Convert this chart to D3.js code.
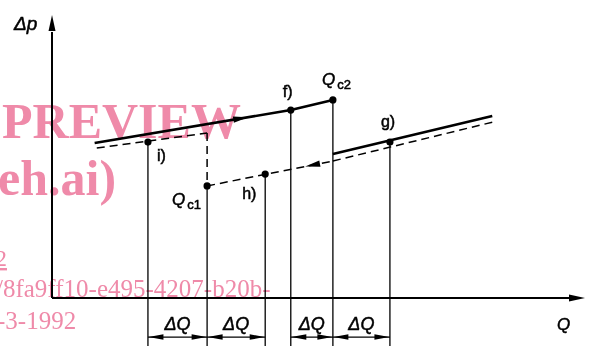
<!DOCTYPE html>
<html>
<head>
<meta charset="utf-8">
<script src="https://cdn.jsdelivr.net/npm/d3@7"></script>
<style>
  body { margin: 0; background: #fff; }
  svg { display: block; }
  .lab { font-family: "Liberation Sans", Arial, sans-serif; fill: #000; stroke: #000; stroke-width: 0.5px; }
  .wm { font-family: "Liberation Serif", "Times New Roman", serif; fill: #ef8aa9; mix-blend-mode: multiply; }
</style>
</head>
<body>
<svg id="chart" width="590" height="346"></svg>
<script>
// points on the characteristic (Q, delta p), abstract units 0..100
var pointNames = ["i)", "Qc1", "h)", "f)", "Qc2", "g)"];
var pointQ = [18.0, 29.1, 40.0, 44.8, 52.7, 63.4];
var pointDp = [55.1, 39.6, 43.8, 66.4, 70.0, 55.1];

// line segments
var upperSolidQ = [8.0, 44.8, 52.7],  upperSolidDp = [54.8, 66.4, 70.0];
var upperDashQ = [8.4, 29.1],         upperDashDp = [53.0, 58.3];
var lowerDashQ = [29.1, 52.7],        lowerDashDp = [39.6, 48.4];
var rightSolidQ = [52.7, 82.6],       rightSolidDp = [50.9, 64.3];
var rightDashQ = [52.7, 82.8],        rightDashDp = [48.4, 62.2];

// delta Q intervals (from, to)
var dqFrom = [18.0, 29.1, 44.8, 52.7];
var dqTo = [29.1, 40.0, 52.7, 63.4];
var dqLabels = ["ΔQ", "ΔQ", "ΔQ", "ΔQ"];

// direction arrows on the lines (tip Q)
var fwdArrowQ = 36.8, backArrowQ = 47.5;
var dimBottom = -17, dimArrowDp = -13.8;

var watermark = ["PREVIEW", "eh.ai)", "2", "/8fa9ff10-e495-4207-b20b-", "-3-1992"];

var svg = d3.select("#chart");
var x = d3.scaleLinear().domain([0, 100]).range([52, 585]);
var y = d3.scaleLinear().domain([0, 100]).range([298, 15]);

function zip(a, b) { return a.map(function(v, i) { return [v, b[i]]; }); }
var line = d3.line().x(function(d) { return x(d[0]); }).y(function(d) { return y(d[1]); });

// filled arrow head, tip at (tx,ty), pointing along angle
function head(tx, ty, ang, len, w) {
  var c = Math.cos(ang), s = Math.sin(ang);
  var bx = tx - c * len, by = ty - s * len;
  return "M" + tx + "," + ty + "L" + (bx - s * w) + "," + (by + c * w) +
    "L" + (bx + s * w) + "," + (by - c * w) + "Z";
}

// verticals from each point down
var qc1 = pointNames.indexOf("Qc1");
svg.append("g").selectAll("line")
  .data(pointQ)
  .enter().append("line")
    .attr("x1", function(d) { return x(d); })
    .attr("x2", function(d) { return x(d); })
    .attr("y1", function(d, i) { return y(pointDp[i]); })
    .attr("y2", y(dimBottom))
    .attr("stroke", "#000").attr("stroke-width", 1.3);

// dashed vertical above Qc1
svg.append("line")
  .attr("x1", x(pointQ[qc1])).attr("x2", x(pointQ[qc1]))
  .attr("y1", y(upperDashDp[1])).attr("y2", y(pointDp[qc1]))
  .attr("stroke", "#000").attr("stroke-width", 1.5).attr("stroke-dasharray", "8,5");

// axes
svg.append("line").attr("x1", x(0)).attr("x2", x(0)).attr("y1", y(0)).attr("y2", y(94))
  .attr("stroke", "#000").attr("stroke-width", 2);
svg.append("path").attr("d", head(x(0), y(100), -Math.PI / 2, 16, 3.5));
svg.append("line").attr("x1", x(0)).attr("x2", x(97)).attr("y1", y(0)).attr("y2", y(0))
  .attr("stroke", "#000").attr("stroke-width", 2);
svg.append("path").attr("d", head(x(100), y(0), 0, 16, 3.5));

// characteristic lines
var solidStyle = function(sel) { sel.attr("fill", "none").attr("stroke", "#000").attr("stroke-width", 2.6); };
var dashStyle = function(sel) { sel.attr("fill", "none").attr("stroke", "#000").attr("stroke-width", 1.5).attr("stroke-dasharray", "8,5"); };

svg.append("path").attr("d", line(zip(upperSolidQ, upperSolidDp))).call(solidStyle);
svg.append("path").attr("d", line(zip(rightSolidQ, rightSolidDp))).call(solidStyle);
svg.append("path").attr("d", line(zip(upperDashQ, upperDashDp))).call(dashStyle);
svg.append("path").attr("d", line(zip(lowerDashQ, lowerDashDp))).call(dashStyle);
svg.append("path").attr("d", line(zip(rightDashQ, rightDashDp))).call(dashStyle);

// direction arrows
var sA = d3.scaleLinear().domain([upperSolidQ[0], upperSolidQ[1]]).range([upperSolidDp[0], upperSolidDp[1]]);
var a1 = Math.atan2(y(upperSolidDp[1]) - y(upperSolidDp[0]), x(upperSolidQ[1]) - x(upperSolidQ[0]));
svg.append("path").attr("d", head(x(fwdArrowQ), y(sA(fwdArrowQ)), a1, 15, 3.2));
var sB = d3.scaleLinear().domain(lowerDashQ).range(lowerDashDp);
var a2 = Math.atan2(y(lowerDashDp[0]) - y(lowerDashDp[1]), x(lowerDashQ[0]) - x(lowerDashQ[1]));
svg.append("path").attr("d", head(x(backArrowQ), y(sB(backArrowQ)), a2, 15, 3.2));

// points
svg.append("g").selectAll("circle")
  .data(pointQ)
  .enter().append("circle")
    .attr("cx", function(d) { return x(d); })
    .attr("cy", function(d, i) { return y(pointDp[i]); })
    .attr("r", 3.6);

// point labels
var offs = { "i)": [9, 19], "Qc1": [-35, 19], "h)": [-23, 25], "f)": [-8, -13], "Qc2": [-11, -15], "g)": [-9, -15] };
pointNames.forEach(function(n, i) {
  var px = x(pointQ[i]) + offs[n][0], py = y(pointDp[i]) + offs[n][1];
  if (n.charAt(0) == "Q") {
    var t = svg.append("text").attr("class", "lab").attr("x", px).attr("y", py)
      .style("font-size", "17px").style("font-style", "italic").text("Q");
    t.append("tspan").attr("dx", 2).attr("dy", 4).style("font-size", "13px").style("font-style", "normal")
      .text(n.slice(1));
  } else {
    svg.append("text").attr("class", "lab").attr("x", px).attr("y", py)
      .style("font-size", "16px").text(n);
  }
});

// dimension arrows for delta Q
var dy = y(dimArrowDp);
dqFrom.forEach(function(a, i) {
  var x0 = x(a), x1 = x(dqTo[i]);
  svg.append("line").attr("x1", x0).attr("x2", x1).attr("y1", dy).attr("y2", dy)
    .attr("stroke", "#000").attr("stroke-width", 1.2);
  svg.append("path").attr("d", head(x0 + 0.5, dy, Math.PI, 15, 2.8));
  svg.append("path").attr("d", head(x1 - 0.5, dy, 0, 15, 2.8));
  svg.append("text").attr("class", "lab").attr("x", (x0 + x1) / 2).attr("y", dy - 7)
    .attr("text-anchor", "middle").style("font-size", "18px").style("font-style", "italic")
    .text(dqLabels[i]);
});

// axis titles
svg.append("text").attr("class", "lab").attr("x", 14).attr("y", 30)
  .style("font-size", "19px").style("font-style", "italic").text("Δp");
svg.append("text").attr("class", "lab").attr("x", 557).attr("y", 330)
  .style("font-size", "17px").style("font-style", "italic").text("Q");

// watermark overlay
var wmPos = [[2, 138, 50, "bold"], [-2, 195, 50, "bold"], [-5, 266, 24, "normal"], [-4, 297, 25, "normal"], [-3, 329, 25, "normal"]];
watermark.forEach(function(s, i) {
  svg.append("text").attr("class", "wm").attr("x", wmPos[i][0]).attr("y", wmPos[i][1])
    .style("font-size", wmPos[i][2] + "px").style("font-weight", wmPos[i][3])
    .style("text-decoration", i == 2 ? "underline" : null).text(s);
});
</script>
</body>
</html>
